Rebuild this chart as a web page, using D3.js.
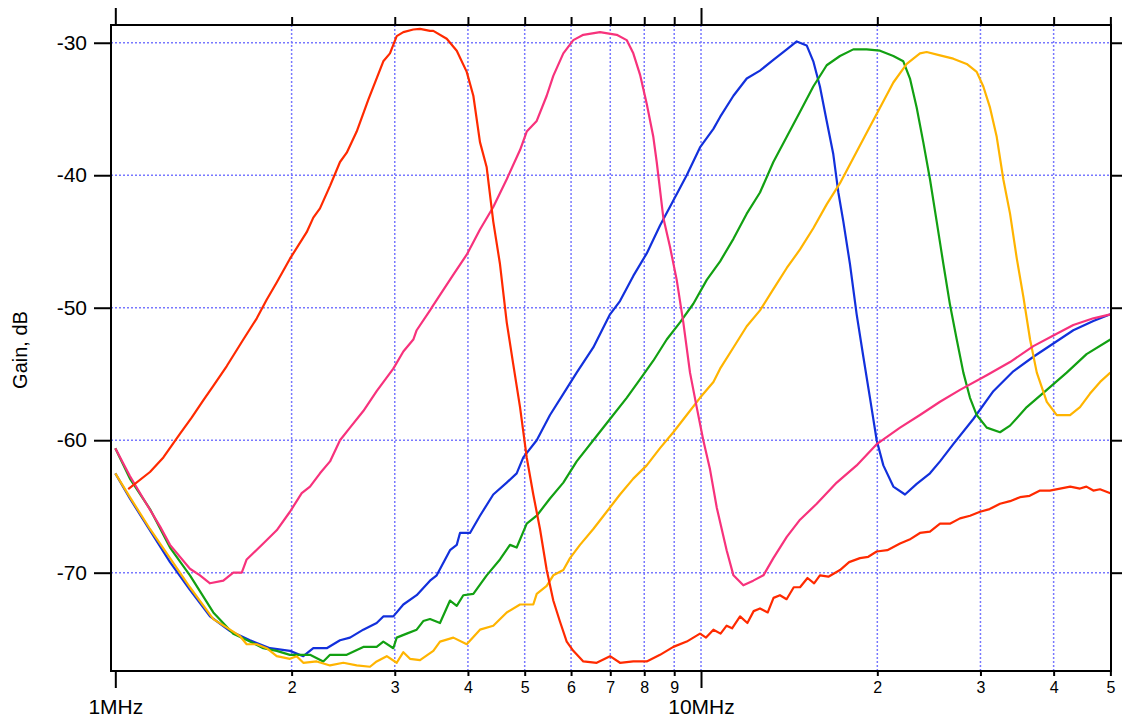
<!DOCTYPE html>
<html>
<head>
<meta charset="utf-8">
<script src="https://cdn.jsdelivr.net/npm/d3@7"></script>
<style>
  body { margin: 0; background: #fff; }
  svg text { font-family: "Liberation Sans", Arial, Helvetica, sans-serif; fill: #000; }
</style>
</head>
<body>
<svg id="chart" width="1122" height="720"></svg>
<script>
// Frequency in MHz, gain in dB.
var redTrace = [[1.052,-63.7],[1.146,-62.4],[1.208,-61.3],[1.290,-59.5],[1.350,-58.3],[1.413,-57.0],[1.470,-55.9],[1.550,-54.4],[1.654,-52.4],[1.744,-50.8],[1.813,-49.4],[1.886,-48.1],[1.987,-46.3],[2.122,-44.3],[2.178,-43.2],[2.236,-42.5],[2.326,-40.8],[2.419,-39.0],[2.484,-38.3],[2.583,-36.7],[2.704,-34.3],[2.868,-31.4],[2.944,-30.8],[3.023,-29.5],[3.103,-29.2],[3.227,-29.0],[3.313,-28.95],[3.446,-29.1],[3.491,-29.1],[3.680,-29.7],[3.828,-30.6],[3.981,-32.2],[4.086,-34.0],[4.194,-37.5],[4.306,-39.4],[4.419,-43.5],[4.537,-46.7],[4.659,-51.1],[4.781,-54.3],[4.909,-57.5],[5.040,-61.3],[5.172,-64.1],[5.310,-66.7],[5.452,-69.8],[5.595,-72.1],[5.745,-73.7],[5.898,-75.2],[6.053,-75.9],[6.296,-76.7],[6.636,-76.8],[6.993,-76.3],[7.272,-76.8],[7.663,-76.7],[8.078,-76.7],[8.512,-76.2],[8.969,-75.6],[9.454,-75.2],[9.960,-74.6],[10.2,-74.9],[10.5,-74.3],[10.8,-74.6],[11.06,-74.0],[11.3,-74.2],[11.66,-73.3],[12.0,-73.8],[12.3,-72.9],[12.61,-72.7],[13.0,-73.0],[13.3,-71.9],[13.64,-71.7],[14.0,-72.0],[14.4,-71.1],[14.76,-71.1],[15.2,-70.4],[15.6,-70.8],[15.96,-70.2],[16.5,-70.3],[17.27,-69.8],[17.9,-69.2],[18.68,-68.9],[19.3,-68.8],[19.95,-68.4],[20.8,-68.3],[21.87,-67.8],[22.7,-67.5],[23.65,-67.0],[24.6,-66.9],[25.59,-66.3],[26.6,-66.3],[27.68,-65.9],[28.8,-65.7],[29.95,-65.4],[31.1,-65.2],[32.40,-64.8],[33.7,-64.6],[35.05,-64.3],[36.4,-64.2],[37.92,-63.8],[39.4,-63.8],[41.02,-63.65],[42.7,-63.5],[44.37,-63.65],[45.5,-63.5],[46.76,-63.8],[48.0,-63.7],[50,-64.0]];

var pinkTrace = [[1.0,-60.6],[1.059,-62.7],[1.116,-64.4],[1.192,-66.5],[1.240,-67.9],[1.341,-69.7],[1.395,-70.2],[1.451,-70.8],[1.529,-70.6],[1.590,-70.0],[1.644,-70.0],[1.676,-69.0],[1.789,-67.8],[1.886,-66.8],[1.987,-65.4],[2.081,-64.0],[2.150,-63.5],[2.236,-62.5],[2.326,-61.6],[2.419,-60.0],[2.516,-59.05],[2.651,-57.8],[2.794,-56.3],[2.983,-54.6],[3.103,-53.3],[3.227,-52.4],[3.270,-51.7],[3.446,-50.2],[3.491,-49.8],[3.777,-47.5],[3.981,-46.0],[4.194,-44.1],[4.419,-42.4],[4.659,-40.3],[4.909,-38.1],[5.040,-36.7],[5.242,-35.9],[5.452,-34.0],[5.595,-32.5],[5.820,-30.8],[6.053,-29.8],[6.296,-29.4],[6.723,-29.2],[7.179,-29.4],[7.467,-29.8],[7.663,-30.8],[7.868,-32.4],[8.078,-34.6],[8.290,-37.1],[8.402,-39.0],[8.623,-43.2],[8.852,-45.4],[9.089,-47.9],[9.328,-51.1],[9.577,-54.9],[9.832,-57.5],[10.09,-60.0],[10.36,-62.2],[10.64,-65.1],[11.06,-68.3],[11.36,-70.2],[11.81,-70.95],[12.28,-70.6],[12.78,-70.2],[13.29,-68.9],[14.01,-67.3],[14.76,-66.0],[15.76,-64.8],[17.05,-63.2],[18.44,-61.9],[19.95,-60.3],[21.87,-59.05],[23.65,-58.1],[25.59,-57.1],[27.68,-56.2],[30.75,-55.1],[33.70,-54.1],[36.94,-52.9],[39.96,-52.1],[43.22,-51.3],[46.76,-50.8],[50,-50.5]];

var blueTrace = [[1.0,-62.5],[1.059,-64.4],[1.146,-66.8],[1.240,-69.2],[1.341,-71.3],[1.451,-73.3],[1.570,-74.4],[1.698,-75.1],[1.837,-75.7],[1.987,-75.9],[2.094,-76.3],[2.178,-75.7],[2.296,-75.7],[2.419,-75.1],[2.516,-74.9],[2.651,-74.3],[2.794,-73.8],[2.868,-73.3],[2.983,-73.3],[3.103,-72.4],[3.270,-71.7],[3.446,-70.6],[3.538,-70.2],[3.728,-68.3],[3.828,-67.9],[3.877,-67.0],[4.033,-67.0],[4.194,-65.7],[4.419,-64.1],[4.659,-63.2],[4.845,-62.5],[4.973,-61.3],[5.242,-60.0],[5.523,-58.1],[5.820,-56.5],[6.134,-54.9],[6.548,-53.0],[6.993,-50.5],[7.272,-49.5],[7.663,-47.6],[8.078,-45.9],[8.512,-43.8],[8.969,-41.9],[9.454,-40.0],[9.960,-37.9],[10.50,-36.5],[10.78,-35.6],[11.36,-34.0],[11.97,-32.7],[12.61,-32.1],[13.29,-31.3],[14.01,-30.5],[14.57,-29.9],[15.15,-30.2],[15.55,-31.4],[15.96,-33.3],[16.39,-35.9],[16.82,-38.4],[17.16,-41.3],[17.50,-43.5],[17.96,-46.7],[18.44,-50.5],[18.93,-53.7],[19.43,-56.8],[19.95,-60.0],[20.48,-61.9],[21.30,-63.5],[22.30,-64.1],[23.35,-63.3],[24.60,-62.5],[25.59,-61.6],[26.96,-60.3],[29.17,-58.4],[31.56,-56.3],[34.14,-54.8],[36.94,-53.7],[39.96,-52.7],[43.22,-51.7],[46.76,-51.0],[50,-50.5]];

var greenTrace = [[1.0,-60.6],[1.059,-62.9],[1.146,-65.2],[1.240,-68.1],[1.341,-70.2],[1.470,-73.0],[1.590,-74.6],[1.698,-75.2],[1.789,-75.7],[1.886,-75.9],[1.987,-76.2],[2.150,-76.2],[2.265,-76.7],[2.326,-76.2],[2.484,-76.2],[2.651,-75.6],[2.794,-75.6],[2.868,-75.2],[2.983,-75.7],[3.023,-74.9],[3.144,-74.6],[3.270,-74.3],[3.356,-73.65],[3.446,-73.5],[3.584,-73.8],[3.728,-72.1],[3.828,-72.5],[3.928,-71.7],[4.086,-71.6],[4.306,-70.2],[4.537,-69.0],[4.719,-67.9],[4.845,-68.1],[5.040,-66.3],[5.242,-65.7],[5.523,-64.4],[5.820,-63.2],[6.134,-61.6],[6.548,-60.0],[6.993,-58.4],[7.467,-56.8],[7.868,-55.4],[8.290,-54.0],[8.739,-52.4],[9.208,-51.1],[9.703,-49.7],[10.23,-47.9],[10.78,-46.5],[11.36,-44.8],[11.97,-42.9],[12.61,-41.3],[13.29,-39.0],[14.01,-37.1],[14.76,-35.2],[15.55,-33.3],[16.39,-31.7],[17.27,-31.0],[18.20,-30.5],[19.18,-30.5],[20.21,-30.6],[21.30,-31.0],[22.15,-31.4],[22.74,-32.7],[23.35,-34.9],[23.96,-37.5],[24.60,-40.3],[25.26,-43.5],[25.93,-46.7],[26.62,-49.8],[27.33,-52.4],[28.05,-54.9],[28.79,-56.8],[29.56,-58.1],[30.75,-59.05],[32.40,-59.4],[33.70,-58.9],[35.99,-57.5],[38.94,-56.2],[42.11,-54.9],[45.53,-53.5],[50,-52.4]];

var yellowTrace = [[1.0,-62.5],[1.059,-64.3],[1.146,-66.7],[1.240,-68.9],[1.341,-71.1],[1.470,-73.5],[1.570,-74.3],[1.633,-74.8],[1.676,-75.4],[1.744,-75.4],[1.813,-75.7],[1.886,-76.3],[1.987,-76.5],[2.040,-76.3],[2.094,-76.8],[2.207,-76.7],[2.326,-77.0],[2.451,-76.8],[2.583,-77.0],[2.722,-77.1],[2.794,-76.7],[2.907,-76.3],[3.023,-76.8],[3.103,-76.0],[3.185,-76.5],[3.313,-76.6],[3.491,-75.9],[3.584,-75.2],[3.777,-74.9],[3.981,-75.4],[4.194,-74.3],[4.419,-74.0],[4.659,-73.0],[4.909,-72.4],[5.172,-72.4],[5.242,-71.6],[5.452,-71.0],[5.595,-70.2],[5.820,-69.8],[5.975,-68.9],[6.214,-67.9],[6.548,-66.7],[6.902,-65.4],[7.272,-64.1],[7.663,-62.9],[8.078,-61.9],[8.512,-60.6],[8.969,-59.4],[9.454,-58.1],[9.960,-56.8],[10.50,-55.6],[10.78,-54.6],[11.36,-53.0],[11.97,-51.4],[12.61,-50.2],[13.29,-48.6],[14.01,-47.0],[14.76,-45.6],[15.55,-44.0],[16.39,-42.2],[17.27,-40.6],[18.20,-38.7],[19.18,-36.8],[20.21,-34.9],[21.30,-33.0],[22.45,-31.6],[23.65,-30.8],[24.28,-30.7],[25.59,-30.95],[26.96,-31.2],[28.42,-31.6],[29.56,-32.2],[30.34,-33.3],[31.15,-34.9],[31.98,-37.1],[32.82,-40.3],[33.70,-42.9],[34.61,-46.3],[35.52,-49.2],[36.46,-52.4],[37.44,-54.9],[38.94,-57.1],[40.50,-58.1],[42.67,-58.1],[44.37,-57.5],[46.12,-56.5],[48.02,-55.6],[50,-54.9]];

// Axis ticks and labels.
var majorFreqs = [1, 10];
var majorLabels = ["1MHz", "10MHz"];
var minorFreqs = [2, 3, 4, 5, 6, 7, 8, 9, 20, 30, 40, 50];
var minorLabels = ["2", "3", "4", "5", "6", "7", "8", "9", "2", "3", "4", "5"];
var gridFreqs = [2, 3, 4, 5, 6, 7, 8, 9, 10, 20, 30, 40];
var gainTicks = [-30, -40, -50, -60, -70];

var series = [
  {data: blueTrace, color: "#1230dc"},
  {data: greenTrace, color: "#12a012"},
  {data: yellowTrace, color: "#ffb400"},
  {data: pinkTrace, color: "#f7327c"},
  {data: redTrace, color: "#ff2a00"}
];

// Plot box in page pixels.
var plotLeft = 111, plotRight = 1111, plotTop = 25, plotBottom = 671;

var x = d3.scaleLog().domain([0.9832, 50.12]).range([plotLeft, plotRight]);
var y = d3.scaleLinear().domain([-77.42, -28.66]).range([plotBottom, plotTop]);

var svg = d3.select("#chart");

// Dotted grid.
var grid = svg.append("g")
  .attr("stroke", "#7878ff")
  .attr("stroke-width", 1.5)
  .attr("stroke-dasharray", "2,2");

grid.selectAll(".vgrid").data(gridFreqs).enter().append("line")
  .attr("x1", function(d) { return x(d); })
  .attr("x2", function(d) { return x(d); })
  .attr("y1", plotTop).attr("y2", plotBottom);

grid.selectAll(".hgrid").data(gainTicks).enter().append("line")
  .attr("y1", function(d) { return y(d); })
  .attr("y2", function(d) { return y(d); })
  .attr("x1", plotLeft).attr("x2", plotRight);

// Traces.
svg.append("clipPath").attr("id", "plotClip")
  .append("rect").attr("x", plotLeft).attr("y", plotTop)
  .attr("width", plotRight - plotLeft).attr("height", plotBottom - plotTop);

var line = d3.line()
  .x(function(d) { return x(d[0]); })
  .y(function(d) { return y(d[1]); });

svg.append("g").attr("clip-path", "url(#plotClip)")
  .selectAll("path").data(series).enter().append("path")
  .attr("d", function(d) { return line(d.data); })
  .attr("fill", "none")
  .attr("stroke", function(d) { return d.color; })
  .attr("stroke-width", 2.2)
  .attr("stroke-linejoin", "round");

// Axes.
var styleAxis = function(g, fontSize) {
  g.select(".domain").remove();
  g.selectAll(".tick line").attr("stroke", "#000").attr("stroke-width", 2);
  g.selectAll(".tick text").style("font-size", fontSize + "px");
};

svg.append("g").attr("transform", "translate(0," + plotBottom + ")")
  .call(d3.axisBottom(x).tickValues(majorFreqs).tickSize(17).tickPadding(11)
    .tickFormat(function(d, i) { return majorLabels[i]; }))
  .call(styleAxis, 21);

svg.append("g").attr("transform", "translate(0," + plotBottom + ")")
  .call(d3.axisBottom(x).tickValues(minorFreqs).tickSize(5).tickPadding(6)
    .tickFormat(function(d, i) { return minorLabels[i]; }))
  .call(styleAxis, 16);

svg.append("g").attr("transform", "translate(0," + plotTop + ")")
  .call(d3.axisTop(x).tickValues(majorFreqs).tickSize(17).tickFormat(""))
  .call(styleAxis, 16);

svg.append("g").attr("transform", "translate(0," + plotTop + ")")
  .call(d3.axisTop(x).tickValues(minorFreqs).tickSize(8).tickFormat(""))
  .call(styleAxis, 16);

svg.append("g").attr("transform", "translate(" + plotLeft + ",0)")
  .call(d3.axisLeft(y).tickValues(gainTicks).tickSize(17).tickPadding(7)
    .tickFormat(function(d) { return String(d); }))
  .call(styleAxis, 21);

svg.append("g").attr("transform", "translate(" + plotRight + ",0)")
  .call(d3.axisRight(y).tickValues(gainTicks).tickSize(13).tickFormat(""))
  .call(styleAxis, 16);

// Frame.
svg.append("rect")
  .attr("x", plotLeft).attr("y", plotTop)
  .attr("width", plotRight - plotLeft).attr("height", plotBottom - plotTop)
  .attr("fill", "none").attr("stroke", "#000").attr("stroke-width", 2);

// Y title.
svg.append("text")
  .attr("transform", "translate(27,350) rotate(-90)")
  .attr("text-anchor", "middle")
  .style("font-size", "20px")
  .text("Gain, dB");
</script>
</body>
</html>
